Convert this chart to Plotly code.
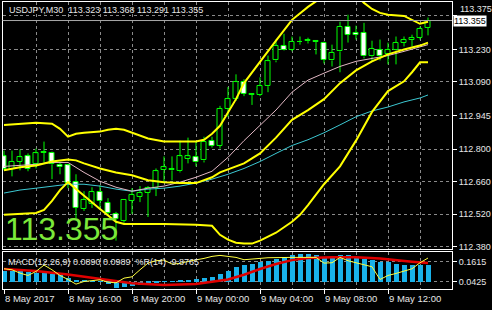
import plotly.graph_objects as go

W, H = 492, 310

# ---------------- data ----------------
opens = [112.769, 112.717, 112.747, 112.769, 112.735, 112.786, 112.786, 112.730, 112.730, 112.658,
         112.542, 112.564, 112.615, 112.568, 112.521, 112.491, 112.577, 112.594, 112.611, 112.632,
         112.709, 112.709, 112.705, 112.760, 112.765, 112.752, 112.837, 112.816, 112.974, 113.016,
         113.089, 113.034, 113.034, 113.072, 113.183, 113.247, 113.230, 113.264, 113.266, 113.266,
         113.260, 113.183, 113.222, 113.329, 113.303, 113.303, 113.200, 113.230, 113.209, 113.226,
         113.260, 113.273, 113.281, 113.323]
highs = [112.794, 112.794, 112.799, 112.782, 112.803, 112.833, 112.790, 112.743, 112.735, 112.692,
         112.619, 112.636, 112.645, 112.589, 112.530, 112.585, 112.632, 112.641, 112.641, 112.717,
         112.769, 112.769, 112.837, 112.850, 112.833, 112.854, 112.854, 112.987, 113.068, 113.123,
         113.102, 113.042, 113.110, 113.204, 113.273, 113.298, 113.286, 113.286, 113.281, 113.268,
         113.264, 113.251, 113.350, 113.380, 113.333, 113.345, 113.268, 113.273, 113.260, 113.286,
         113.286, 113.294, 113.329, 113.368]
lows = [112.709, 112.683, 112.709, 112.705, 112.717, 112.743, 112.671, 112.692, 112.632, 112.500,
        112.534, 112.547, 112.547, 112.513, 112.406, 112.483, 112.521, 112.572, 112.508, 112.598,
        112.654, 112.666, 112.700, 112.739, 112.726, 112.743, 112.807, 112.803, 112.940, 113.008,
        113.029, 112.991, 113.029, 113.046, 113.175, 113.226, 113.222, 113.251, 113.256, 113.209,
        113.170, 113.157, 113.132, 113.260, 113.273, 113.192, 113.179, 113.183, 113.166, 113.166,
        113.243, 113.243, 113.273, 113.291]
closes = [112.717, 112.747, 112.765, 112.717, 112.782, 112.790, 112.735, 112.722, 112.654, 112.547,
          112.581, 112.615, 112.577, 112.525, 112.500, 112.581, 112.602, 112.611, 112.632, 112.705,
          112.722, 112.717, 112.769, 112.769, 112.743, 112.833, 112.816, 112.974, 113.016, 113.089,
          113.038, 113.040, 113.072, 113.179, 113.247, 113.230, 113.264, 113.262, 113.271, 113.263,
          113.187, 113.217, 113.329, 113.294, 113.294, 113.200, 113.234, 113.200, 113.230, 113.260,
          113.273, 113.281, 113.320, 113.355]

# Bollinger bands (read at selected bars)
bb_up_idx = [0, 2, 4, 6, 7, 8, 9, 10, 12, 13, 14, 15, 16, 18, 20, 22, 24, 25, 26, 27, 28, 29, 30, 32, 34,
             36, 38, 40, 42, 43, 44, 45, 46, 47, 48, 50, 51, 52, 53]
bb_up = [112.905, 112.910, 112.914, 112.910, 112.888, 112.854, 112.867, 112.871, 112.876, 112.884,
         112.888, 112.884, 112.871, 112.846, 112.833, 112.833, 112.833, 112.841, 112.867, 112.901,
         112.961, 113.016, 113.085, 113.179, 113.268, 113.358, 113.414, 113.461, 113.486, 113.486,
         113.465, 113.431, 113.405, 113.388, 113.380, 113.375, 113.358, 113.341, 113.350]
bb_mid_idx = [0, 2, 4, 6, 8, 9, 10, 12, 14, 16, 18, 20, 22, 24, 26, 27, 28, 30, 32, 34, 36, 38, 40, 42,
              44, 46, 48, 50, 52, 53]
bb_mid = [112.709, 112.722, 112.730, 112.747, 112.756, 112.752, 112.739, 112.717, 112.700, 112.688,
          112.666, 112.658, 112.654, 112.654, 112.679, 112.700, 112.713, 112.739, 112.782, 112.850,
          112.927, 112.969, 113.016, 113.085, 113.140, 113.179, 113.209, 113.230, 113.247, 113.260]
bb_low_idx = [0, 2, 4, 5, 6, 7, 8, 9, 10, 12, 14, 15, 16, 20, 24, 26, 27, 28, 29, 30, 31, 32, 34, 36, 37,
              38, 40, 42, 44, 45, 46, 48, 50, 51, 52, 53]
bb_low = [112.517, 112.521, 112.525, 112.538, 112.577, 112.624, 112.658, 112.628, 112.598, 112.542,
          112.487, 112.478, 112.478, 112.478, 112.474, 112.470, 112.431, 112.410, 112.397, 112.393,
          112.393, 112.406, 112.440, 112.487, 112.517, 112.559, 112.649, 112.726, 112.837, 112.901,
          112.961, 113.051, 113.093, 113.132, 113.175, 113.175]

# moving averages
ma_pink_idx = [0, 2, 4, 6, 8, 10, 12, 14, 16, 18, 20, 22, 24, 26, 28, 30, 32, 34, 36, 38, 40, 42, 44,
               46, 48, 50, 52, 53]
ma_pink = [112.726, 112.730, 112.735, 112.743, 112.743, 112.700, 112.662, 112.636, 112.619, 112.632,
           112.641, 112.658, 112.679, 112.705, 112.765, 112.837, 112.901, 112.969, 113.046, 113.098,
           113.128, 113.157, 113.179, 113.192, 113.204, 113.222, 113.243, 113.251]
ma_cyan_idx = [0, 2, 4, 6, 8, 10, 12, 14, 16, 18, 20, 22, 24, 26, 28, 30, 32, 34, 36, 38, 40, 42, 44,
               46, 48, 50, 52, 53]
ma_cyan = [112.611, 112.624, 112.632, 112.641, 112.649, 112.649, 112.641, 112.628, 112.619, 112.628,
           112.632, 112.641, 112.654, 112.671, 112.692, 112.717, 112.747, 112.782, 112.816, 112.841,
           112.871, 112.905, 112.940, 112.965, 112.982, 113.004, 113.021, 113.034]

# MACD histogram (one value per bar)
macd_hist = [0.061, 0.056, 0.056, 0.052, 0.048, 0.048, 0.042, 0.037, 0.018, 0.010,
             0.005, 0.003, 0.001, -0.010, -0.033, -0.030, -0.025, -0.015, -0.010, -0.005,
             0.001, 0.002, 0.005, 0.010, 0.014, 0.018, 0.024, 0.042, 0.061, 0.080,
             0.090, 0.099, 0.105, 0.112, 0.124, 0.131, 0.146, 0.150, 0.150, 0.146,
             0.131, 0.127, 0.143, 0.143, 0.137, 0.124, 0.118, 0.109, 0.105, 0.099,
             0.090, 0.090, 0.090, 0.0890]
signal_idx = [0, 4, 8, 12, 16, 20, 24, 28, 30, 32, 34, 36, 38, 41, 44, 47, 49, 51, 53]
signal = [0.067, 0.056, 0.037, 0.014, -0.010, -0.020, -0.014, 0.010, 0.036, 0.067, 0.094, 0.115,
          0.127, 0.131, 0.131, 0.124, 0.114, 0.106, 0.0989]
# Williams %R(14)
wpr = [-42, -45, -55, -62, -50, -31, -45, -62, -74, -88,
       -80, -77, -75, -82, -84, -70, -66, -45, -25, -18,
       -16, -28, -26, -20, -16, -11, -5, -2, -5, -8,
       -15, -12, -11, -9, -8, -7, -8, -8, -7, -8,
       -25, -24, -8, -18, -24, -30, -36, -74, -62, -56,
       -50, -42, -24, -9.8765]

price_ticks = [113.375, 113.230, 113.090, 112.945, 112.800, 112.660, 112.520, 112.380]
time_labels = ["8 May 2017", "8 May 16:00", "8 May 20:00", "9 May 00:00",
               "9 May 04:00", "9 May 08:00", "9 May 12:00"]
time_bars = [0, 8, 16, 24, 32, 40, 48]
grid_bars = [4, 8, 12, 16, 20, 24, 28, 32, 36, 40, 44, 48, 52]

symbol_title = "USDJPY,M30  113.323 113.368 113.291 113.355"
macd_title = "MACD(12,26,9) 0.0890 0.0989  %R(14) -9.8765"
last_price = 113.355

# ---------------- styling ----------------
FONT = "Liberation Sans"
TXT = "#E6E6E6"
GRID = "#8A8A8A"
LIME = "#00FF00"

def px_x(p):
    return p / W

def px_y(p):
    return (H - p) / H

n = len(opens)
bars = list(range(n))

fig = go.Figure()

# candle bodies
MINH = 0.0018
bull_x, bull_b, bull_h, bear_x, bear_b, bear_h = [], [], [], [], [], []
wx, wy = [], []
for i in range(n):
    o, h, l, c = opens[i], highs[i], lows[i], closes[i]
    top, bot = max(o, c), min(o, c)
    hh = max(top - bot, MINH)
    if c >= o:
        bull_x.append(i); bull_b.append(bot); bull_h.append(hh)
    else:
        bear_x.append(i); bear_b.append(bot); bear_h.append(hh)
    if h > top:
        wx += [i, i, None]; wy += [top, h, None]
    if l < bot:
        wx += [i, i, None]; wy += [l, bot, None]

fig.add_trace(go.Scatter(x=wx, y=wy, mode="lines", line=dict(color=LIME, width=1),
                         hoverinfo="skip", xaxis="x", yaxis="y"))
fig.add_trace(go.Bar(x=bull_x, y=bull_h, base=bull_b, width=0.6,
                     marker=dict(color="black", line=dict(color=LIME, width=1)),
                     xaxis="x", yaxis="y"))
fig.add_trace(go.Bar(x=bear_x, y=bear_h, base=bear_b, width=0.6,
                     marker=dict(color="white", line=dict(color=LIME, width=1)),
                     xaxis="x", yaxis="y"))

# moving averages
fig.add_trace(go.Scatter(x=ma_cyan_idx, y=ma_cyan, mode="lines",
                         line=dict(color="#3CC8D2", width=1), xaxis="x", yaxis="y"))
fig.add_trace(go.Scatter(x=ma_pink_idx, y=ma_pink, mode="lines",
                         line=dict(color="#E2B8C4", width=1), xaxis="x", yaxis="y"))
# Bollinger bands
for ix, vals in ((bb_up_idx, bb_up), (bb_mid_idx, bb_mid), (bb_low_idx, bb_low)):
    fig.add_trace(go.Scatter(x=ix, y=vals, mode="lines",
                             line=dict(color="#FFFF00", width=2), xaxis="x", yaxis="y"))

# MACD window
fig.add_trace(go.Bar(x=bars, y=macd_hist, width=0.6, marker=dict(color="#19B2EA", line=dict(width=0)),
                     xaxis="x2", yaxis="y2"))
fig.add_trace(go.Scatter(x=signal_idx, y=signal, mode="lines", line=dict(color="#E00000", width=2.5),
                         xaxis="x2", yaxis="y2"))
fig.add_trace(go.Scatter(x=bars, y=wpr, mode="lines", line=dict(color="#FFFF40", width=1),
                         xaxis="x2", yaxis="y3"))

xdom = [px_x(2.5), px_x(452)]
xrng = [-0.1875, 56]

# the top price label is partly covered by the bid box in the original; draw it as
# an annotation just above the box so both stay readable
tick_text = [f"{v:.3f}" for v in price_ticks]
tick_text[0] = ""

fig.update_layout(
    width=W, height=H, margin=dict(l=0, r=0, t=0, b=0),
    paper_bgcolor="black", plot_bgcolor="black", showlegend=False,
    barmode="overlay", bargap=0,
    font=dict(family=FONT, size=9, color=TXT),
    xaxis=dict(domain=xdom, range=xrng, anchor="y", tickmode="array", tickvals=grid_bars,
               showticklabels=False, ticks="", showgrid=True, gridcolor=GRID, gridwidth=1,
               griddash="3px,3px", showline=True, linecolor="white", linewidth=1, mirror=True,
               zeroline=False),
    yaxis=dict(domain=[px_y(251), px_y(2)], range=[112.3716, 113.435], anchor="x", side="right",
               tickmode="array", tickvals=price_ticks, ticktext=tick_text,
               ticks="outside", ticklen=4, tickcolor="white", tickfont=dict(family=FONT, size=9, color=TXT),
               showgrid=True, gridcolor=GRID, gridwidth=1, griddash="3px,3px",
               showline=True, linecolor="white", linewidth=1, mirror=True, zeroline=False),
    xaxis2=dict(domain=xdom, range=xrng, anchor="y2", tickmode="array", tickvals=time_bars,
                showticklabels=False, ticks="outside", ticklen=4, tickcolor="white", showgrid=False,
                minor=dict(tickmode="array", tickvals=grid_bars, showgrid=True, gridcolor=GRID,
                           griddash="3px,3px", gridwidth=1, ticks=""),
                showline=True, linecolor="white", linewidth=1, mirror=True, zeroline=False),
    yaxis2=dict(domain=[px_y(292), px_y(254)], range=[-0.0425, 0.1615], anchor="x2",
                showticklabels=False, ticks="", showgrid=False, zeroline=False,
                showline=True, linecolor="white", linewidth=1, mirror=True),
    yaxis3=dict(overlaying="y2", anchor="x2", side="right", range=[-103, 9.5],
                tickmode="array", tickvals=[-20, -80], ticktext=["0.1615", "0.0425"],
                ticks="outside", ticklen=4, tickcolor="white", tickfont=dict(family=FONT, size=9, color=TXT),
                showgrid=True, gridcolor=GRID, gridwidth=1, griddash="3px,3px", zeroline=False,
                showline=False),
)

# bid line
fig.add_shape(type="line", xref="x domain", yref="y", x0=0, x1=1, y0=last_price, y1=last_price,
              line=dict(color="#A8A8A8", width=1))

ann = []
ann.append(dict(xref="paper", yref="paper", x=px_x(458), y=px_y(9), xanchor="left", yanchor="middle",
                text=f"{price_ticks[0]:.3f}", showarrow=False, font=dict(family=FONT, size=9, color=TXT)))
ann.append(dict(xref="paper", yref="y", x=px_x(453), y=last_price, xanchor="left", yanchor="middle",
                text=f"{last_price:.3f}", showarrow=False, bgcolor="white", borderpad=0,
                font=dict(family=FONT, size=9, color="black")))
ann.append(dict(xref="paper", yref="paper", x=px_x(7), y=px_y(10), xanchor="left", yanchor="middle",
                text=symbol_title, showarrow=False, font=dict(family=FONT, size=9, color=TXT)))
ann.append(dict(xref="paper", yref="paper", x=px_x(6), y=px_y(265), xanchor="left", yanchor="middle",
                text=macd_title, showarrow=False, font=dict(family=FONT, size=9, color=TXT)))
ann.append(dict(xref="paper", yref="paper", x=px_x(3), y=px_y(231), xanchor="left", yanchor="middle",
                text=f"{last_price:.3f}", showarrow=False, font=dict(family=FONT, size=32, color="#7CE83A")))
for b, t in zip(time_bars, time_labels):
    ann.append(dict(xref="x2", yref="paper", x=b - 0.15, y=px_y(301), xanchor="left", yanchor="middle",
                    text=t, showarrow=False, font=dict(family=FONT, size=9.5, color=TXT)))
fig.update_layout(annotations=ann)

fig.write_html("out.html")
